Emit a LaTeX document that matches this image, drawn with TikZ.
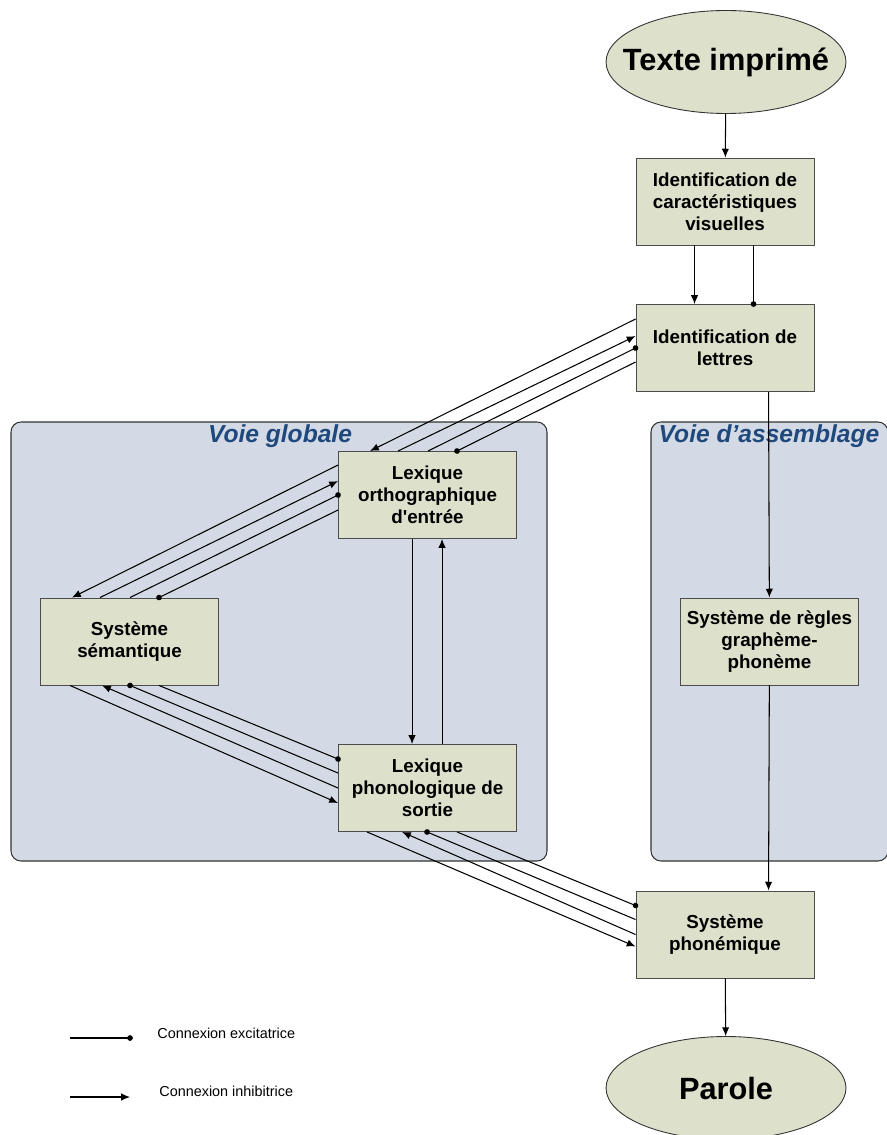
\documentclass[tikz,border=0pt]{standalone}
\usepackage{fontspec}
\setmainfont{Liberation Sans}
\usetikzlibrary{positioning,calc,arrows.meta,shapes.geometric}
\definecolor{boxfill}{RGB}{221,224,203}
\definecolor{panelfill}{RGB}{211,218,229}
\definecolor{titleblue}{RGB}{31,73,125}
\tikzset{
  module/.style={draw=black!70, fill=boxfill, line width=0.55pt, minimum width=3.56cm, minimum height=1.74cm, align=center, inner sep=0pt, font=\bfseries\fontsize{10.7}{12.5}\selectfont},
  terminal/.style={ellipse, draw=black!80, fill=boxfill, line width=0.5pt, minimum width=4.8cm, minimum height=2.06cm, inner xsep=-0.4cm, inner ysep=0pt, font=\bfseries\fontsize{17.5}{20}\selectfont},
  voie/.style={draw=black!80, fill=panelfill, rounded corners=0.2cm, line width=0.6pt},
  voietitle/.style={text=titleblue, font=\bfseries\itshape\fontsize{14}{16}\selectfont},
  inh/.style={-{Latex[length=5pt,width=4.2pt]}, line width=0.6pt},
  exc/.style={-{Circle[length=3.2pt]}, shorten >=-1.6pt, line width=0.6pt},
  legendtext/.style={anchor=west, inner sep=0pt, font=\fontsize{8.2}{10}\selectfont}
}
\begin{document}
\begin{tikzpicture}[x=0.02cm,y=-0.02cm]
	\useasboundingbox (0,0) rectangle (886,1135);
	\draw[voie] (11,422) rectangle (547,861);
	\draw[voie] (651,422) rectangle (888,861);
	\node[voietitle] (globale) at (280,436) {Voie globale};
	\node[voietitle] (assemblage) at (769,436) {Voie d’assemblage};

	\node[terminal] (texte) at (726,62) {Texte imprimé};
	\node[module] (carac) at (725,201.5) {Identification de\\caractéristiques\\visuelles};
	\node[module] (lettres) at (725,348) {Identification de\\lettres};
	\node[module] (ortho) at (427.5,495) {Lexique\\orthographique\\d\textquotesingle entrée};
	\node[module] (semantique) at (129.5,641.5) {Système\\sémantique};
	\node[module] (phono) at (427.5,788) {Lexique\\phonologique de\\sortie};
	\node[module] (regles) at (769.5,641.5) {Système de règles\\graphème-\\phonème};
	\node[module] (phonemique) at (725,934.5) {Système\\phonémique};
	\node[terminal] (parole) at (726,1088) {Parole};

	\draw[inh] (texte) -- (carac);
	\draw[inh] ($(carac.south west)+(59,0)$) -- ($(lettres.north west)+(59,0)$);
	\draw[exc] ($(carac.south west)+(118,0)$) -- ($(lettres.north west)+(118,0)$);
	\draw[inh] ($(lettres.south west)+(133,0)$) -- (regles);
	\draw[inh] (regles) -- ($(phonemique.north west)+(133,0)$);
	\draw[inh] (phonemique) -- (parole);

	\draw[inh] ($(lettres.north west)+(0,15)$) -- ($(ortho.north west)+(32,0)$);
	\draw[inh] ($(ortho.north west)+(60,0)$) -- ($(lettres.north west)+(0,32)$);
	\draw[exc] ($(ortho.north west)+(90,0)$) -- ($(lettres.north west)+(0,44)$);
	\draw[exc] ($(lettres.north west)+(0,58)$) -- ($(ortho.north west)+(119,0)$);

	\draw[inh] ($(ortho.north west)+(0,14)$) -- ($(semantique.north west)+(32,0)$);
	\draw[inh] ($(semantique.north west)+(60,0)$) -- ($(ortho.north west)+(0,30)$);
	\draw[exc] ($(semantique.north west)+(90,0)$) -- ($(ortho.north west)+(0,44)$);
	\draw[exc] ($(ortho.north west)+(0,59)$) -- ($(semantique.north west)+(119,0)$);

	\draw[inh] ($(ortho.south west)+(74,0)$) -- ($(phono.north west)+(74,0)$);
	\draw[inh] ($(phono.north west)+(104,0)$) -- ($(ortho.south west)+(104,0)$);

	\draw[inh] ($(semantique.south west)+(30,0)$) -- ($(phono.north west)+(0,59)$);
	\draw[inh] ($(phono.north west)+(0,44)$) -- ($(semantique.south west)+(62,0)$);
	\draw[exc] ($(phono.north west)+(0,29)$) -- ($(semantique.south west)+(90,0)$);
	\draw[exc] ($(semantique.south west)+(119,0)$) -- ($(phono.north west)+(0,15)$);

	\draw[inh] ($(phono.south west)+(29,0)$) -- ($(phonemique.north west)+(0,56)$);
	\draw[inh] ($(phonemique.north west)+(0,44)$) -- ($(phono.south west)+(64,0)$);
	\draw[exc] ($(phonemique.north west)+(0,29)$) -- ($(phono.south west)+(89,0)$);
	\draw[exc] ($(phono.south west)+(119,0)$) -- ($(phonemique.north west)+(0,15)$);

	\coordinate (exca) at (70,1038);
	\coordinate (excb) at (130,1038);
	\coordinate (inha) at (70,1097);
	\coordinate (inhb) at (130,1097);
	\draw[exc] (exca) -- (excb);
	\draw[inh] (inha) -- (inhb);
	\node[legendtext] (exctext) at (157,1033) {Connexion excitatrice};
	\node[legendtext] (inhtext) at (159,1091) {Connexion inhibitrice};
\end{tikzpicture}
\end{document}
